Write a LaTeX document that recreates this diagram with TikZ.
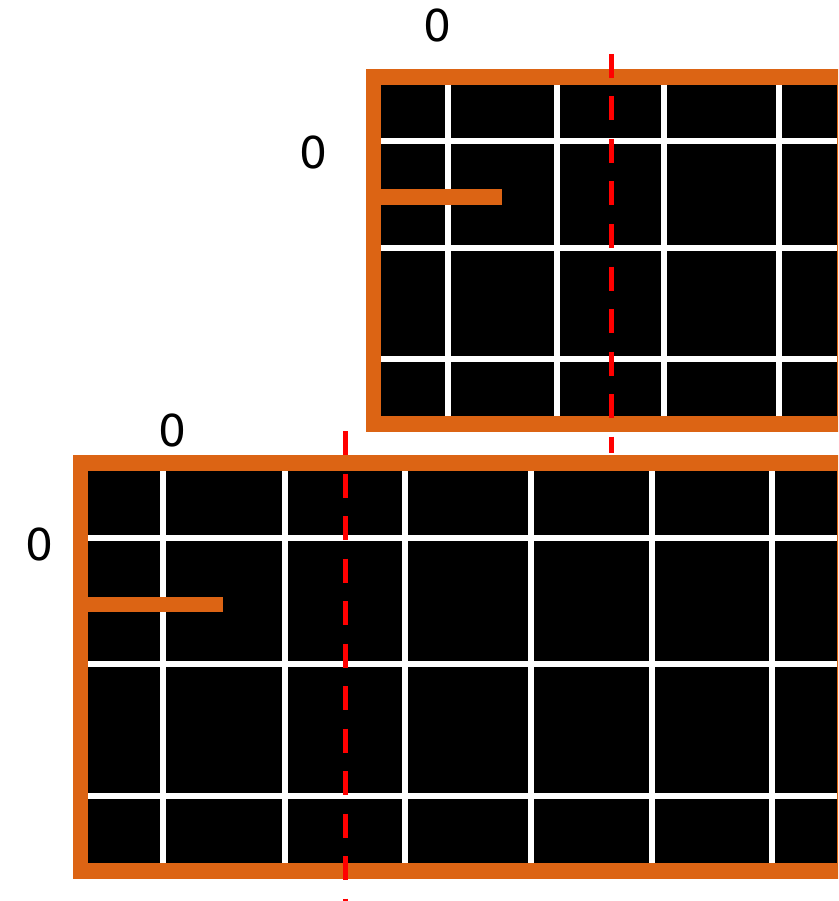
\documentclass[tikz,border=0pt]{standalone}
\usepackage{fontspec}
\setmainfont{DejaVu Sans}
\definecolor{frameor}{HTML}{DC6414}
\tikzset{
  lbl/.style={font=\fontsize{44}{44}\selectfont, inner sep=0pt, text=black},
  gridline/.style={white, line width=6pt},
  cut/.style={red, line width=5pt, dash pattern=on 24pt off 18.5pt},
}
\begin{document}
\begin{tikzpicture}[x=1pt,y=-1pt]
\useasboundingbox (0,0) rectangle (838,901);
\begin{scope}
\clip (0,0) rectangle (838,901);
% top frame
\fill[frameor] (366,69) rectangle (853,432);
\fill[black] (381,85) rectangle (837,416);
\foreach \x in {448,557,664,779} \draw[gridline] (\x,85) -- (\x,416);
\foreach \y in {141,248,359} \draw[gridline] (381,\y) -- (837,\y);
\fill[frameor] (381,189) rectangle (502,205);
% bottom frame
\fill[frameor] (73,455) rectangle (853,879);
\fill[black] (88,471) rectangle (837,863);
\foreach \x in {163,285,405,531,652,772} \draw[gridline] (\x,471) -- (\x,863);
\foreach \y in {538,664,796} \draw[gridline] (88,\y) -- (837,\y);
\fill[frameor] (88,597) rectangle (223,612);
% cut lines
\coordinate (c1a) at (611,54);
\coordinate (c1b) at (611,453);
\coordinate (c2a) at (345,431);
\coordinate (c2b) at (345,901);
\draw[cut] (c1a) -- (c1b);
\draw[cut] (c2a) -- (c2b);
\end{scope}
% labels
\node[lbl] (t1) at (437,25) {0};
\node[lbl] (l1) at (313,152) {0};
\node[lbl] (t2) at (172,430) {0};
\node[lbl] (l2) at (39,544) {0};
\end{tikzpicture}
\end{document}
